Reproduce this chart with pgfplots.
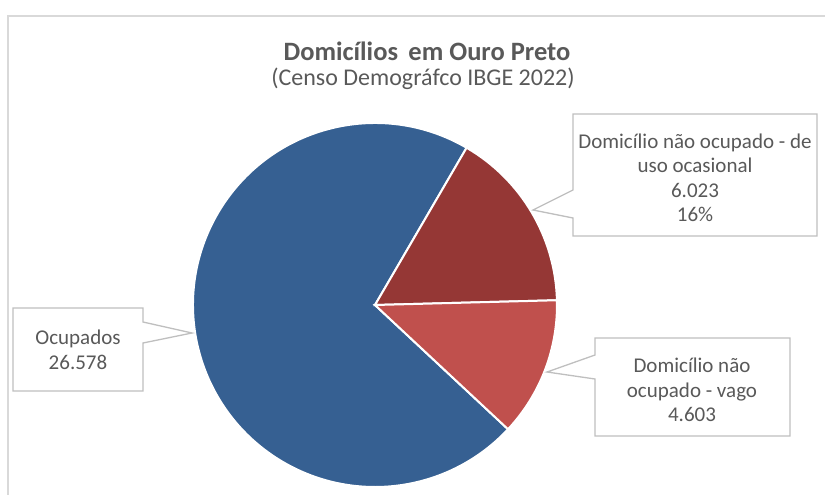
\documentclass[border=0pt]{standalone}
\usepackage{pgfplots}
\pgfplotsset{compat=1.18}
\usepackage{pgfplotstable}
\usepackage{fontspec}
\setmainfont{Carlito}

\definecolor{ocup}{HTML}{366092}
\definecolor{ocas}{HTML}{953735}
\definecolor{vago}{HTML}{C0504D}
\definecolor{txt}{HTML}{595959}
\definecolor{box}{HTML}{BFBFBF}
\definecolor{frame}{HTML}{D9D9D9}

% domicilios, Censo IBGE 2022
\pgfplotstableread{
label value
Ocupados 26578
Ocasional 6023
Vago 4603
}\domdata

\begin{document}
\begin{tikzpicture}
\pgfplotstablegetelem{0}{value}\of\domdata \let\vOcup\pgfplotsretval
\pgfplotstablegetelem{1}{value}\of\domdata \let\vOcas\pgfplotsretval
\pgfplotstablegetelem{2}{value}\of\domdata \let\vVago\pgfplotsretval
\edef\tot{\fpeval{\vOcup+\vOcas+\vVago}}
% slice angles; boundary between the two red slices at 1.5 deg
\edef\aA{\fpeval{1.5-360*\vVago/\tot}}
\edef\aB{1.5}
\edef\aC{\fpeval{1.5+360*\vOcas/\tot}}
\edef\aD{\fpeval{\aA+360}}
\begin{axis}[
  name=ax,
  scale only axis,
  width=825bp, height=495bp,
  xmin=0, xmax=825, ymin=0, ymax=495,
  y dir=reverse,
  hide axis,
  clip=false,
]
\addplot[draw=none] coordinates {(0,0) (825,495)};
% chart frame
\draw[frame, line width=2bp] (axis cs:8,497) -- (axis cs:8,16) -- (axis cs:827,16);
% title
\node[txt, font=\fontsize{26.5bp}{30bp}\selectfont\bfseries] at (axis cs:427,51) {Domicílios\, em Ouro Preto};
\node[txt, font=\fontsize{24bp}{28bp}\selectfont] at (axis cs:423,79) {(Censo Demográfco IBGE 2022)};
% pie
\fill[ocup, draw=white, line width=2bp] (axis cs:375,305) -- ++(\aC:182bp)
  arc[start angle=\aC, end angle=\aD, radius=182bp] -- cycle;
\fill[ocas, draw=white, line width=2bp] (axis cs:375,305) -- ++(\aB:182bp)
  arc[start angle=\aB, end angle=\aC, radius=182bp] -- cycle;
\fill[vago, draw=white, line width=2bp] (axis cs:375,305) -- ++(\aA:182bp)
  arc[start angle=\aA, end angle=\aB, radius=182bp] -- cycle;
% callouts
\filldraw[fill=white, draw=box, line width=1.3bp]
  (axis cs:573,114) -- (axis cs:817,114) -- (axis cs:817,236) -- (axis cs:573,236)
  -- (axis cs:573,218) -- (axis cs:533,210) -- (axis cs:573,190) -- cycle;
\filldraw[fill=white, draw=box, line width=1.3bp]
  (axis cs:13,308) -- (axis cs:143,308) -- (axis cs:143,322) -- (axis cs:192,333)
  -- (axis cs:143,343) -- (axis cs:143,391) -- (axis cs:13,391) -- cycle;
\filldraw[fill=white, draw=box, line width=1.3bp]
  (axis cs:595,338) -- (axis cs:790,338) -- (axis cs:790,436) -- (axis cs:595,436)
  -- (axis cs:595,379) -- (axis cs:547,372) -- (axis cs:595,355) -- cycle;
\node[txt, align=center, font=\fontsize{21bp}{24.5bp}\selectfont] at (axis cs:695,178)
  {Domicílio não ocupado - de\\uso ocasional\\6.023\\16\%};
\node[txt, align=center, font=\fontsize{21bp}{24.5bp}\selectfont] at (axis cs:78,350)
  {Ocupados\\26.578};
\node[txt, align=center, font=\fontsize{21bp}{24.5bp}\selectfont] at (axis cs:692,390)
  {Domicílio não\\ocupado - vago\\4.603};
\end{axis}
\pgfresetboundingbox
\path (ax.south west) rectangle (ax.north east);
\end{tikzpicture}
\end{document}
